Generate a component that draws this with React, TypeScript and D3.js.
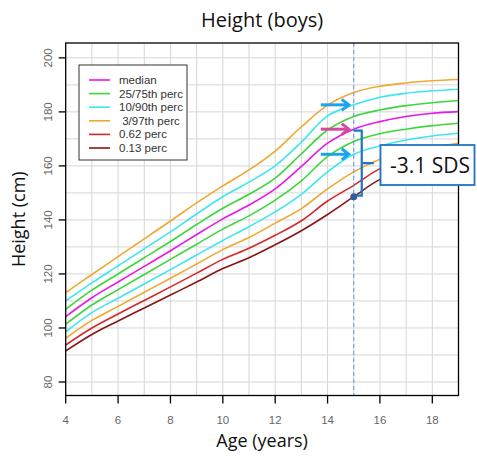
import React, { useEffect, useRef } from "react";
import * as d3 from "d3";

// ages 4..19 and the reference curves (cm)
const ages = [4, 5, 6, 7, 8, 9, 10, 11, 12, 13, 14, 15, 16, 17, 18, 19];
const p97 = [113.1, 119.8, 126.4, 133.0, 139.6, 146.3, 152.6, 158.5, 165.5, 174.5, 182.5, 187.2, 189.5, 190.7, 191.5, 192.0];
const p90 = [110.0, 116.7, 123.0, 129.3, 135.6, 142.2, 148.6, 154.0, 160.0, 168.8, 178.5, 182.6, 185.4, 186.9, 187.8, 188.4];
const p75 = [106.9, 114.0, 120.0, 126.0, 132.0, 138.3, 144.3, 149.5, 155.5, 164.5, 173.3, 178.3, 180.7, 182.3, 183.4, 184.2];
const p50 = [104.2, 111.2, 117.0, 122.8, 128.6, 134.6, 140.4, 145.5, 151.5, 159.8, 168.4, 173.6, 176.4, 178.3, 179.5, 180.1];
const p25 = [101.4, 108.5, 114.2, 119.8, 125.4, 131.0, 136.6, 141.5, 147.3, 154.5, 163.4, 169.0, 171.9, 173.6, 174.9, 175.8];
const p10 = [98.6, 105.7, 111.0, 116.3, 121.6, 127.0, 132.4, 137.5, 143.0, 149.5, 157.8, 164.3, 167.4, 169.6, 171.1, 172.1];
const p3 = [96.2, 102.8, 108.0, 113.2, 118.4, 123.7, 129.0, 133.5, 138.8, 144.2, 151.5, 157.8, 162.5, 165.7, 167.0, 168.4];
const p062 = [93.7, 100.0, 105.2, 110.2, 115.2, 120.3, 125.4, 129.5, 134.3, 139.7, 147.0, 152.8, 159.0, 162.5, 164.0, 164.8];
const p013 = [91.5, 97.6, 102.6, 107.4, 112.2, 117.0, 122.0, 126.0, 130.8, 136.0, 142.0, 148.6, 155.0, 158.5, 160.2, 161.0];

const xTicks = [4, 6, 8, 10, 12, 14, 16, 18];
const yTicks = [80, 100, 120, 140, 160, 180, 200];

const colMagenta = "#e619e6";
const colGreen = "#3ed63e";
const colCyan = "#3ee6ee";
const colOrange = "#f0a830";
const colRed = "#d42a2a";
const colDark = "#8b1515";

const curves = [
  { values: p97, color: colOrange },
  { values: p90, color: colCyan },
  { values: p75, color: colGreen },
  { values: p50, color: colMagenta },
  { values: p25, color: colGreen },
  { values: p10, color: colCyan },
  { values: p3, color: colOrange },
  { values: p062, color: colRed },
  { values: p013, color: colDark },
];

const legendLabels = ["median", "25/75th perc", "10/90th perc", " 3/97th perc", "0.62 perc", "0.13 perc"];
const legendColors = [colMagenta, colGreen, colCyan, colOrange, colRed, colDark];

// the measured child
const childAge = 15;
const childHeight = 148.6;
const childLabel = "-3.1 SDS";
const arrowCurves = [
  { values: p90, color: "#1ca3e8" },
  { values: p50, color: "#d6489f" },
  { values: p10, color: "#1ca3e8" },
];

export default function App() {
  const svgRef = useRef<SVGSVGElement>(null);

  useEffect(() => {
    const svg = d3.select(svgRef.current);
    svg.selectAll("*").remove();

    const width = 477;
    const height = 456;
    const left = 65.7, right = 458.5, top = 43, bottom = 395.5;

    const x = d3.scaleLinear().domain([4, 19]).range([left, right]);
    const y = d3.scaleLinear().domain([75, 205.5]).range([bottom, top]);

    svg.append("rect").attr("width", width).attr("height", height).attr("fill", "#fff");

    // grid
    const grid = svg.append("g").attr("stroke", "#d6d6d6").attr("stroke-width", 1);
    d3.range(5, 19).forEach((a) => {
      grid.append("line").attr("x1", x(a)).attr("x2", x(a)).attr("y1", top).attr("y2", bottom);
    });
    d3.range(80, 205, 10).forEach((v) => {
      grid.append("line").attr("x1", left).attr("x2", right).attr("y1", y(v)).attr("y2", y(v));
    });

    // percentile curves
    const line = d3.line<number>()
      .x((_, i) => x(ages[i]))
      .y((d) => y(d))
      .curve(d3.curveCatmullRom.alpha(0.5));

    svg.append("g")
      .selectAll("path")
      .data(curves)
      .enter()
      .append("path")
      .attr("d", (d) => line(d.values))
      .attr("fill", "none")
      .attr("stroke", (d) => d.color)
      .attr("stroke-width", 1.6);

    // dashed age line
    svg.append("line")
      .attr("x1", x(childAge)).attr("x2", x(childAge))
      .attr("y1", top).attr("y2", bottom)
      .attr("stroke", "#6b98d4")
      .attr("stroke-width", 1)
      .attr("stroke-dasharray", "4,3");

    // frame
    svg.append("rect")
      .attr("x", left).attr("y", top)
      .attr("width", right - left).attr("height", bottom - top)
      .attr("fill", "none").attr("stroke", "#000").attr("stroke-width", 1.3);

    // x axis
    const xAxis = svg.append("g");
    xTicks.forEach((t) => {
      xAxis.append("line").attr("x1", x(t)).attr("x2", x(t)).attr("y1", bottom).attr("y2", bottom + 8)
        .attr("stroke", "#000").attr("stroke-width", 1.3);
      xAxis.append("text").attr("x", x(t)).attr("y", bottom + 28)
        .attr("text-anchor", "middle").attr("font-family", "Liberation Sans, Arial, sans-serif")
        .attr("font-size", 11.5).attr("fill", "#666").text(t);
    });

    // y axis
    const yAxis = svg.append("g");
    yTicks.forEach((t) => {
      yAxis.append("line").attr("x1", left - 7).attr("x2", left).attr("y1", y(t)).attr("y2", y(t))
        .attr("stroke", "#000").attr("stroke-width", 1.3);
      yAxis.append("text")
        .attr("transform", `translate(${left - 14},${y(t)}) rotate(-90)`)
        .attr("text-anchor", "middle").attr("font-family", "Liberation Sans, Arial, sans-serif")
        .attr("font-size", 11.5).attr("fill", "#666").text(t);
    });

    // titles
    svg.append("text").attr("x", (left + right) / 2).attr("y", 27)
      .attr("text-anchor", "middle").attr("font-family", "Open Sans, sans-serif")
      .attr("font-size", 20).attr("fill", "#111").text("Height (boys)");
    svg.append("text").attr("x", (left + right) / 2).attr("y", 447)
      .attr("text-anchor", "middle").attr("font-family", "Open Sans, sans-serif")
      .attr("font-size", 18).attr("fill", "#111").text("Age (years)");
    svg.append("text")
      .attr("transform", `translate(25,${(top + bottom) / 2}) rotate(-90)`)
      .attr("text-anchor", "middle").attr("font-family", "Open Sans, sans-serif")
      .attr("font-size", 18).attr("fill", "#111").text("Height (cm)");

    // legend
    const lg = svg.append("g").attr("transform", "translate(79,65)");
    lg.append("rect").attr("width", 108).attr("height", 95)
      .attr("fill", "#fff").attr("stroke", "#333").attr("stroke-width", 1);
    legendLabels.forEach((lab, i) => {
      const ly = 15 + i * 13.6;
      lg.append("line").attr("x1", 10).attr("x2", 31).attr("y1", ly).attr("y2", ly)
        .attr("stroke", legendColors[i]).attr("stroke-width", 1.6);
      lg.append("text").attr("x", 40).attr("y", ly + 4)
        .attr("font-family", "Liberation Sans, Arial, sans-serif").attr("font-size", 11.5)
        .attr("fill", "#333").attr("xml:space", "preserve").style("white-space", "pre").text(lab);
    });

    // arrows pointing at the reference values at the child's age
    const at = ages.indexOf(childAge);
    arrowCurves.forEach((a) => {
      const tipX = x(childAge) - 5;
      const ty = y(a.values[at]);
      const g = svg.append("g").attr("stroke", a.color).attr("stroke-width", 3)
        .attr("fill", "none").attr("stroke-linecap", "butt");
      g.append("line").attr("x1", tipX - 28).attr("x2", tipX - 1).attr("y1", ty).attr("y2", ty);
      g.append("path").attr("d", `M${tipX - 7},${ty - 5.5}L${tipX},${ty}L${tipX - 7},${ty + 5.5}`);
    });

    // bracket from median down to child's height
    const bx = x(childAge) + 8;
    const yTop = y(p50[at]) + 1.5;
    const yBot = y(childHeight) - 1;
    svg.append("path")
      .attr("d", `M${x(childAge)},${yTop}H${bx}V${yBot}H${x(childAge) + 2}M${bx},${(yTop + yBot) / 2}H${bx + 12}`)
      .attr("fill", "none").attr("stroke", "#1f74c4").attr("stroke-width", 2.2);

    // child point
    svg.append("circle").attr("cx", x(childAge)).attr("cy", y(childHeight)).attr("r", 3.5)
      .attr("fill", "#2f5f9c");

    // callout
    svg.append("rect").attr("x", 380.5).attr("y", 145).attr("width", 94).attr("height", 40)
      .attr("fill", "#fff").attr("stroke", "#1f74c4").attr("stroke-width", 1.8);
    svg.append("text").attr("x", 390).attr("y", 173)
      .attr("font-family", "Open Sans, sans-serif").attr("font-size", 21)
      .attr("fill", "#111").text(childLabel);
  }, []);

  return (
    <div style={{ position: "absolute", left: 0, top: 0 }}>
      <svg ref={svgRef} width={477} height={456} style={{ display: "block" }} />
    </div>
  );
}
